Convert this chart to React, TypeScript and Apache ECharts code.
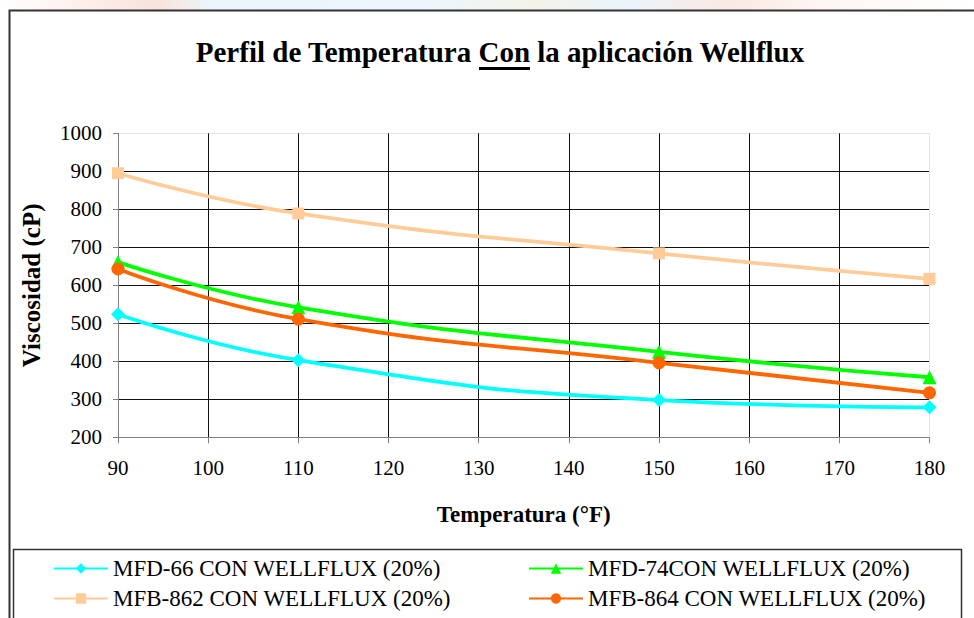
import React, { useEffect, useRef } from "react";
import * as echarts from "echarts";

const temperatures = [90, 110, 150, 180];
const mfd66 = [524, 403, 298, 279];
const mfd74 = [661, 542, 425, 358];
const mfb862 = [895, 789, 684, 617];
const mfb864 = [643, 511, 396, 317];

const seriesNames = [
  "MFD-66 CON WELLFLUX (20%)",
  "MFD-74CON WELLFLUX (20%)",
  "MFB-862 CON WELLFLUX (20%)",
  "MFB-864 CON WELLFLUX (20%)",
];
const seriesColors = ["#00FFFF", "#00FF00", "#FFCC99", "#FF6600"];
const seriesSymbols = ["diamond", "triangle", "rect", "circle"];
const seriesSymbolSizes = [14, 14, 12, 13];
const seriesValues = [mfd66, mfd74, mfb862, mfb864];

const titleText = "Perfil de Temperatura Con la aplicación Wellflux";
const xAxisName = "Temperatura (°F)";
const yAxisName = "Viscosidad (cP)";

const FONT = "Liberation Serif, Times New Roman, serif";

export default function App() {
  const ref = useRef<HTMLDivElement>(null);

  useEffect(() => {
    if (!ref.current) return;
    const chart = echarts.init(ref.current, undefined, { renderer: "svg" });

    const series = seriesValues.map((vals, i) => ({
      name: seriesNames[i],
      type: "line",
      data: temperatures.map((t, j) => [t, vals[j]]),
      smooth: 0.5,
      symbol: seriesSymbols[i],
      symbolSize: seriesSymbolSizes[i],
      showAllSymbol: true,
      lineStyle: { color: seriesColors[i], width: 3.8 },
      itemStyle: { color: seriesColors[i] },
      emphasis: { disabled: true },
    }));

    const ySplitColors = ["#808080"];
    for (let i = 0; i < 7; i++) ySplitColors.push("#111");
    ySplitColors.push("#e4e4e4");
    const xSplitColors = ["#808080"];
    for (let i = 0; i < 8; i++) xSplitColors.push("#111");
    xSplitColors.push("#e4e4e4");

    const legendText = { fontFamily: FONT, fontSize: 23, color: "#000" };
    // legend slots: [series index, left, top]
    const legendSlots: [number, number, number][] = [
      [0, 53, 557],
      [1, 528, 557],
      [2, 53, 587],
      [3, 528, 587],
    ];
    const legends = legendSlots.map(([idx, left, top]) => ({
      data: [seriesNames[idx]],
      orient: "horizontal",
      left,
      top,
      padding: 0,
      itemWidth: 54,
      itemHeight: 13,
      selectedMode: false,
      textStyle: legendText,
    }));

    chart.setOption({
      animation: false,
      backgroundColor: "#fff",
      grid: { left: 118, top: 133.3, right: 44.5, bottom: 180.7, containLabel: false },
      xAxis: {
        type: "value",
        min: 90,
        max: 180,
        interval: 10,
        name: xAxisName,
        nameLocation: "middle",
        nameGap: 66,
        nameTextStyle: { fontFamily: FONT, fontSize: 23, fontWeight: "bold", color: "#000" },
        axisLine: { show: true, lineStyle: { color: "#808080", width: 1 } },
        axisTick: { show: true, length: 6, lineStyle: { color: "#808080" } },
        axisLabel: {
          fontFamily: FONT,
          fontSize: 21,
          color: "#000",
          margin: 20,
          formatter: (v: number) => String(v),
        },
        splitLine: { show: true, lineStyle: { color: xSplitColors, width: 1 } },
      },
      yAxis: {
        type: "value",
        min: 200,
        max: 1000,
        interval: 100,
        name: yAxisName,
        nameLocation: "middle",
        nameGap: 74,
        nameRotate: 90,
        nameTextStyle: { fontFamily: FONT, fontSize: 25, fontWeight: "bold", color: "#000" },
        axisLine: { show: true, lineStyle: { color: "#808080", width: 1 } },
        axisTick: { show: true, length: 5, lineStyle: { color: "#808080" } },
        axisLabel: {
          fontFamily: FONT,
          fontSize: 21,
          color: "#000",
          margin: 16,
          formatter: (v: number) => String(v),
        },
        splitLine: { show: true, lineStyle: { color: ySplitColors, width: 1 } },
      },
      legend: legends,
      graphic: [
        {
          type: "rect",
          shape: { x: 0, y: 0, width: 974, height: 10 },
          style: {
            fill: new echarts.graphic.LinearGradient(0, 0, 1, 0, [
              { offset: 0, color: "#ffffff" },
              { offset: 0.08, color: "#fdf0ec" },
              { offset: 0.16, color: "#f9e2dc" },
              { offset: 0.22, color: "#ecf5fb" },
              { offset: 0.45, color: "#eef6fa" },
              { offset: 0.55, color: "#f4f3ea" },
              { offset: 0.64, color: "#eaf4fa" },
              { offset: 0.75, color: "#fbe9e4" },
              { offset: 0.84, color: "#fdf6f3" },
              { offset: 1, color: "#ffffff" },
            ]),
          },
          silent: true,
          z: -1,
        },
        {
          type: "polyline",
          shape: { points: [[9.5, 618], [9.5, 10.5], [974, 10.5]] },
          style: { fill: null, stroke: "#333", lineWidth: 2 },
          silent: true,
        },
        {
          type: "polyline",
          shape: { points: [[13.5, 618], [13.5, 549.5], [961.5, 549.5], [961.5, 618]] },
          style: { fill: null, stroke: "#333", lineWidth: 1.5 },
          silent: true,
        },
        {
          type: "text",
          x: 500,
          y: 52,
          style: {
            text: titleText,
            font: `bold 29px ${FONT}`,
            fill: "#000",
            textAlign: "center",
            textVerticalAlign: "middle",
          },
          silent: true,
        },
        {
          type: "rect",
          shape: { x: 479, y: 67, width: 51, height: 3 },
          style: { fill: "#000" },
          silent: true,
        },
      ],
      series,
    });

    return () => chart.dispose();
  }, []);

  return (
    <div
      ref={ref}
      style={{ position: "fixed", left: 0, top: 0, width: 974, height: 618 }}
    />
  );
}
